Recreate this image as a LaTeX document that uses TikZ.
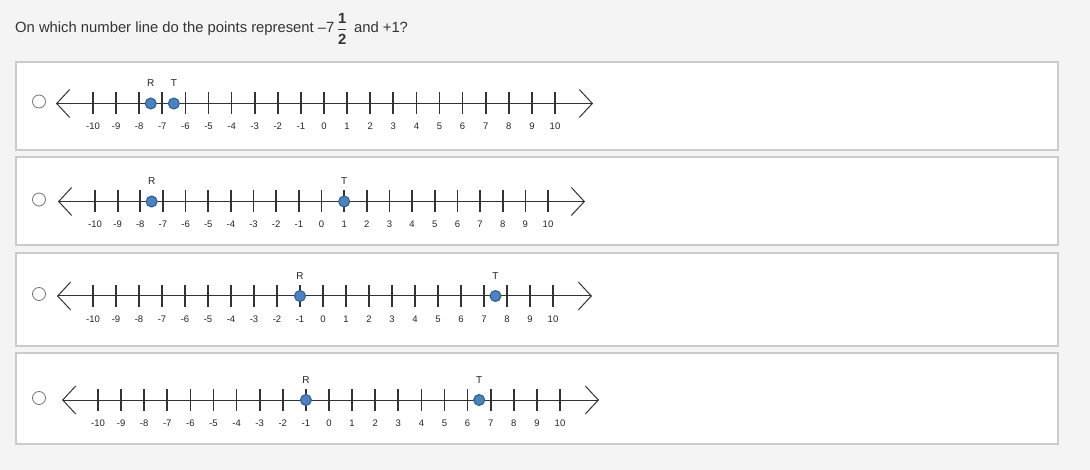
\documentclass[tikz,border=0pt]{standalone}
\usepackage{amsmath}
\usepackage{fontspec}
\setmainfont{Liberation Sans}
\usetikzlibrary{arrows.meta}

\definecolor{pagebg}{HTML}{F4F4F4}
\definecolor{framegray}{HTML}{CBCBCB}
\definecolor{dotblue}{HTML}{4F81BD}
\definecolor{dotedge}{HTML}{2C5C94}
\definecolor{inkgray}{HTML}{333333}

\tikzset{
  panel/.style={fill=white, draw=framegray, line width=1.5pt},
  radio/.style={circle, draw=black!55, fill=white, line width=0.8pt, minimum size=13pt, inner sep=0pt},
  axis/.style={draw=inkgray, line width=1pt, {Straight Barb[length=13pt,width=28pt]}-{Straight Barb[length=13pt,width=28pt]}},
  tick/.style={draw=inkgray, line width=1.7pt},
  ticklabel/.style={font=\fontsize{9.5}{11}\selectfont, text=black!85, inner sep=0pt},
  pt/.style={circle, fill=dotblue, draw=dotedge, line width=1pt, minimum size=11pt, inner sep=0pt},
  ptlabel/.style={font=\fontsize{10}{12}\selectfont, text=black!85, inner sep=0pt}
}

\begin{document}
\begin{tikzpicture}[x=1pt,y=-1pt]
\fill[pagebg] (0,0) rectangle (1090,470);
\node[anchor=base west, inner sep=0pt, font=\fontsize{14.8}{16}\selectfont, text=inkgray] (question) at (15,33)
  {On which number line do the points represent --7\,$\genfrac{}{}{1pt}{0}{\mbox{\bfseries 1}\rule[-2pt]{0pt}{2pt}}{\rule{0pt}{12pt}\mbox{\bfseries 2}}$\, and +1?};
% the four choices
\foreach \i/\ytop/\ybot/\ly/\xa/\dx/\lt/\rt/\rv/\tv in {
  1/62/150/103.5/93/23.1/56/593/-7.5/-6.5,
  2/157/245/201.5/95/22.65/58/585/-7.5/1,
  3/253/346/296/93/23/57/592/-1/7.5,
  4/353/444/400/98/23.1/62/599/-1/6.5}{
  \draw[panel] (16,\ytop) rectangle (1058,\ybot);
  \node[radio] (opt\i) at (39,\ly-2) {};
  \coordinate (a\i) at (\lt,\ly);
  \coordinate (b\i) at (\rt,\ly);
  \draw[axis] (a\i) -- (b\i);
  \foreach \n in {-10,...,10}{
    \draw[tick] ({\xa+(\n+10)*\dx},\ly-11) -- ++(0,22);
    \node[ticklabel] (lab\i\n) at ({\xa+(\n+10)*\dx},\ly+23) {\n};
  }
  \node[pt] (R\i) at ({\xa+(\rv+10)*\dx},\ly) {};
  \node[ptlabel] (Rname\i) at ({\xa+(\rv+10)*\dx},\ly-20) {R};
  \node[pt] (T\i) at ({\xa+(\tv+10)*\dx},\ly) {};
  \node[ptlabel] (Tname\i) at ({\xa+(\tv+10)*\dx},\ly-20) {T};
}
\end{tikzpicture}
\end{document}
